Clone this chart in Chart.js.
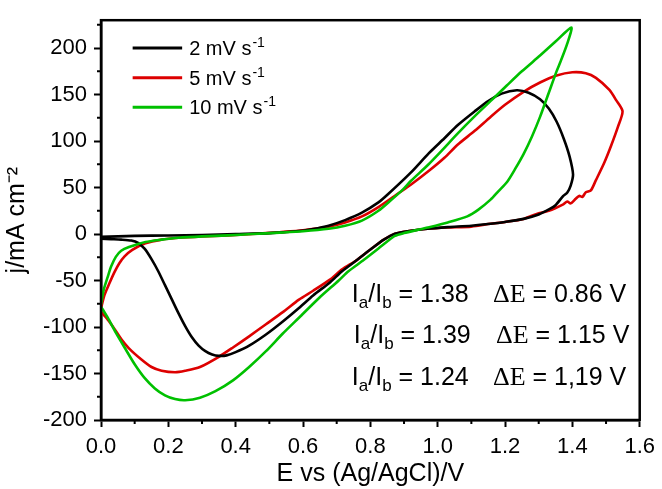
<!DOCTYPE html>
<html><head><meta charset="utf-8">
<script src="https://cdn.jsdelivr.net/npm/chart.js@4/dist/chart.umd.min.js"></script>
<style>html,body{margin:0;padding:0;background:#fff}#wrap{width:662px;height:489px}</style>
</head><body><div id="wrap"><canvas id="c" width="662" height="489"></canvas></div>
<script>
// ---- data ----
const speeds = [2, 5, 10];               // mV s-1
const seriesColors = ['#000000', '#dd0000', '#00c000'];

const e2 = [0, 0.05, 0.1, 0.2, 0.3, 0.4, 0.5, 0.58, 0.63, 0.676, 0.725, 0.775, 0.824, 0.853, 0.92, 0.974, 1.02, 1.059, 1.11, 1.15, 1.19, 1.235, 1.27, 1.304, 1.33, 1.353, 1.375, 1.392, 1.402, 1.395, 1.385, 1.373, 1.35, 1.333, 1.3, 1.255, 1.2, 1.157, 1.1, 1.03, 0.97, 0.92, 0.873, 0.84, 0.804, 0.76, 0.716, 0.68, 0.63, 0.588, 0.54, 0.49, 0.44, 0.4, 0.373, 0.35, 0.33, 0.31, 0.29, 0.27, 0.25, 0.23, 0.21, 0.19, 0.17, 0.15, 0.13, 0.11, 0.09, 0.06, 0.03, 0];
const j2 = [-3, -2.5, -2, -1.5, -1, 0, 1, 3, 5.5, 9, 15, 23, 34, 43, 66, 87, 103, 117, 132, 143, 151, 154.6, 152, 145, 135, 121, 102, 83, 64, 52, 44.7, 41, 31, 27, 21, 16.3, 13, 11, 9, 7.4, 5.7, 3.5, 0.3, -6, -15.6, -28, -40, -52, -66, -79.5, -94, -108, -120, -127, -130.5, -131, -129.5, -126, -120, -111, -99, -85, -70, -55, -40, -27, -16, -9.5, -7, -6, -5.5, -5];

const e5 = [0, 0.01, 0.025, 0.04, 0.054, 0.07, 0.093, 0.132, 0.18, 0.23, 0.3, 0.377, 0.45, 0.53, 0.6, 0.676, 0.725, 0.775, 0.824, 0.88, 0.92, 0.974, 1.02, 1.059, 1.11, 1.157, 1.2, 1.255, 1.304, 1.353, 1.4, 1.44, 1.47, 1.51, 1.53, 1.549, 1.535, 1.515, 1.495, 1.47, 1.455, 1.44, 1.43, 1.42, 1.41, 1.395, 1.385, 1.373, 1.33, 1.294, 1.255, 1.2, 1.157, 1.1, 1.03, 0.97, 0.92, 0.873, 0.84, 0.804, 0.76, 0.716, 0.68, 0.63, 0.588, 0.54, 0.49, 0.44, 0.392, 0.35, 0.294, 0.25, 0.22, 0.18, 0.15, 0.12, 0.083, 0.06, 0.04, 0.02, 0];
const j5 = [-80, -66, -53, -41, -31.6, -24, -17, -10, -6, -4, -2.5, -1.4, 0, 2, 4, 8, 12.5, 19, 29, 43, 53, 68, 82, 96, 111, 126, 139, 153, 163, 170.5, 174, 173, 168, 155, 144, 132, 115, 95, 77, 58, 47, 45, 40, 41, 38, 33, 35, 32, 25, 21.6, 16.3, 13, 11, 8, 7, 5.7, 3.5, 0.3, -6, -15.6, -28, -38, -49, -61, -70.5, -84, -97, -110, -122, -132, -143, -147, -148.6, -147, -143, -135, -123, -113, -102, -92, -84];

const e10 = [0, 0.008, 0.02, 0.03, 0.044, 0.06, 0.083, 0.132, 0.18, 0.23, 0.3, 0.377, 0.45, 0.53, 0.6, 0.676, 0.725, 0.775, 0.824, 0.86, 0.897, 0.92, 0.97, 1.01, 1.059, 1.108, 1.16, 1.206, 1.25, 1.304, 1.35, 1.397, 1.385, 1.366, 1.353, 1.33, 1.304, 1.28, 1.255, 1.23, 1.206, 1.18, 1.157, 1.12, 1.088, 1.03, 0.97, 0.94, 0.9, 0.873, 0.85, 0.824, 0.78, 0.735, 0.706, 0.65, 0.588, 0.54, 0.49, 0.44, 0.392, 0.34, 0.294, 0.25, 0.22, 0.19, 0.16, 0.13, 0.1, 0.07, 0.044, 0.02, 0];
const j10 = [-76, -60, -46, -35, -24.5, -18, -14, -8.5, -6, -4, -2.5, -1.4, 0, 1.5, 3, 5.7, 9, 14.5, 25, 36, 48, 57, 74, 89, 108, 126, 144, 160, 175, 192, 207, 222, 205, 186.5, 175, 152, 126, 105, 86, 70, 56, 46, 37, 26, 19, 12.5, 7, 4.5, 1, -2, -8, -15.6, -28, -40, -50, -68, -90, -107, -126, -143, -157.4, -169, -176, -178.7, -177.5, -173.5, -166, -155, -140, -122, -106, -90, -78];

const xTicks = [0, 0.2, 0.4, 0.6, 0.8, 1.0, 1.2, 1.4, 1.6];
const xMinor = [0.1, 0.3, 0.5, 0.7, 0.9, 1.1, 1.3, 1.5];
const yTicks = [-200, -150, -100, -50, 0, 50, 100, 150, 200];
const yMinor = [-175, -125, -75, -25, 25, 75, 125, 175, 225];

const ratioIaIb = ['1.38', '1.39', '1.24'];
const deltaE = ['0.86', '1.15', '1,19'];

// ---- layout / style constants ----
const SANS = '"Liberation Sans", Arial, sans-serif';
const SERIF = '"Liberation Serif", "Times New Roman", serif';
const legendRowsJ = [200, 168.2, 136.4];
const legendLineE = [0.094, 0.241];
const annoBaseJ = [-73.6, -116.8, -162.8];
const annoStartE = [0.745, 0.751, 0.745];
const annoDeltaE = [1.164, 1.173, 1.164];

const pts = (xs, ys) => xs.map((v, i) => ({x: v, y: ys[i]}));

const decor = {
  id: 'decor',
  afterDraw(chart) {
    const {ctx, chartArea: a, scales: {x, y}} = chart;
    ctx.save();
    ctx.strokeStyle = '#000';
    ctx.lineWidth = 2.5;
    ctx.strokeRect(a.left, a.top, a.right - a.left, a.bottom - a.top);
    ctx.lineWidth = 2;
    ctx.beginPath();
    yMinor.forEach(v => { const p = y.getPixelForValue(v); ctx.moveTo(a.left - 4, p); ctx.lineTo(a.left, p); });
    xMinor.forEach(v => { const p = x.getPixelForValue(v); ctx.moveTo(p, a.bottom); ctx.lineTo(p, a.bottom + 4); });
    ctx.stroke();

    // legend
    ctx.textAlign = 'left';
    ctx.textBaseline = 'alphabetic';
    chart.data.datasets.forEach((ds, i) => {
      const py = y.getPixelForValue(legendRowsJ[i]);
      const x0 = x.getPixelForValue(legendLineE[0]), x1 = x.getPixelForValue(legendLineE[1]);
      ctx.strokeStyle = ds.borderColor; ctx.lineWidth = 3;
      ctx.beginPath(); ctx.moveTo(x0, py); ctx.lineTo(x1, py); ctx.stroke();
      ctx.fillStyle = '#000';
      ctx.font = `20px ${SANS}`;
      const base = `${speeds[i]} mV s`;
      ctx.fillText(base, x1 + 7, py + 7);
      const w = ctx.measureText(base).width;
      ctx.font = `14px ${SANS}`;
      ctx.fillText('-1', x1 + 8 + w, py - 1);
    });

    // annotations
    ratioIaIb.forEach((r, i) => {
      const base = y.getPixelForValue(annoBaseJ[i]);
      let cx = x.getPixelForValue(annoStartE[i]);
      const big = `25px ${SANS}`, small = `17px ${SANS}`;
      const put = (t, f, dy) => { ctx.font = f; ctx.fillText(t, cx, base + dy); cx += ctx.measureText(t).width; };
      put('I', big, 0); put('a', small, 6); put('/I', big, 0); put('b', small, 6); put(' = ' + r, big, 0);
      cx = x.getPixelForValue(annoDeltaE[i]);
      put('\u0394E', `26px ${SERIF}`, 0); put(' = ' + deltaE[i] + ' V', big, 0);
    });
    ctx.restore();
  }
};

new Chart(document.getElementById('c'), {
  type: 'scatter',
  data: {
    datasets: [
      {label: '2 mV s\u207B\u00B9', data: pts(e2, j2), borderColor: seriesColors[0], order: 1},
      {label: '5 mV s\u207B\u00B9', data: pts(e5, j5), borderColor: seriesColors[1], order: 2},
      {label: '10 mV s\u207B\u00B9', data: pts(e10, j10), borderColor: seriesColors[2], order: 0}
    ].map(d => Object.assign(d, {showLine: true, pointRadius: 0, borderWidth: 2.6, tension: 0.25, fill: false}))
  },
  options: {
    responsive: false, animation: false, devicePixelRatio: 1,
    layout: {padding: {left: 0, right: 18, top: 15, bottom: 0}},
    plugins: {legend: {display: false}, tooltip: {enabled: false}},
    scales: {
      x: {
        type: 'linear', min: 0, max: 1.6,
        afterBuildTicks: s => { s.ticks = xTicks.map(v => ({value: v})); },
        afterFit: s => { s.height = 69; },
        ticks: {callback: v => Number(v).toFixed(1), font: {family: SANS, size: 22}, color: '#000', padding: 7, maxRotation: 0, autoSkip: false},
        grid: {drawOnChartArea: false, drawTicks: true, tickLength: 7, tickWidth: 2, tickColor: '#000'},
        border: {color: '#000', width: 2.5},
        title: {display: true, text: 'E vs (Ag/AgCl)/V', font: {family: SANS, size: 25}, color: '#000', padding: {top: 0, bottom: 0}}
      },
      y: {
        type: 'linear', min: -200, max: 230,
        afterBuildTicks: s => { s.ticks = yTicks.map(v => ({value: v})); },
        afterFit: s => { s.width = 101; },
        ticks: {font: {family: SANS, size: 22}, color: '#000', padding: 7, autoSkip: false},
        grid: {drawOnChartArea: false, drawTicks: true, tickLength: 7, tickWidth: 2, tickColor: '#000'},
        border: {color: '#000', width: 2.5},
        title: {display: true, text: 'j/mA cm\u207B\u00B2', font: {family: SANS, size: 25}, color: '#000', padding: {top: 2, bottom: 0}}
      }
    }
  },
  plugins: [decor]
});
</script>
</body></html>
